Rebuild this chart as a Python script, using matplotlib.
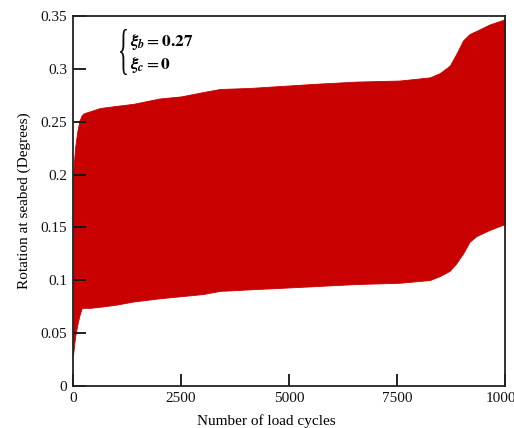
import matplotlib
matplotlib.use("Agg")
import matplotlib.pyplot as plt
from matplotlib.textpath import TextPath
from matplotlib.patches import PathPatch
from matplotlib.font_manager import FontProperties
from matplotlib.transforms import Affine2D

# envelope of the cyclic rotation response
cycles = [0, 50, 100, 150, 200, 250, 400, 625, 1000, 1400, 2000, 2500, 3000,
          3400, 4100, 4870, 5640, 6560, 7560, 8260, 8490, 8720, 8870, 9030,
          9180, 9340, 9640, 10000]
rot_max = [0.200, 0.226, 0.241, 0.251, 0.256, 0.258, 0.260, 0.263, 0.265,
           0.267, 0.272, 0.274, 0.278, 0.281, 0.282, 0.284, 0.286, 0.288,
           0.289, 0.292, 0.296, 0.303, 0.314, 0.327, 0.333, 0.336, 0.342, 0.347]
rot_min = [0.029, 0.047, 0.058, 0.067, 0.0735, 0.074, 0.074, 0.075, 0.077,
           0.080, 0.083, 0.085, 0.087, 0.090, 0.0915, 0.093, 0.0946, 0.0965,
           0.0977, 0.1003, 0.104, 0.109, 0.116, 0.1255, 0.1365, 0.1419,
           0.1476, 0.1533]

xticks = [0, 2500, 5000, 7500, 10000]
yticks = [0, 0.05, 0.1, 0.15, 0.2, 0.25, 0.3, 0.35]
ytick_labels = ['0', '0.05', '0.1', '0.15', '0.2', '0.25', '0.3', '0.35']

plt.rcParams['font.family'] = ['Liberation Serif', 'DejaVu Serif']
plt.rcParams['mathtext.fontset'] = 'stix'

W, H = 514, 428
fig = plt.figure(figsize=(W / 100, H / 100), dpi=100)
ax = fig.add_axes([0.142, 0.098, 0.8405, 0.8645])

ax.fill_between(cycles, rot_min, rot_max, color='#c80000', linewidth=0.6,
                edgecolor='#c80000')

ax.set_xlim(0, 10000)
ax.set_ylim(0, 0.35)
ax.set_xticks(xticks)
ax.set_xticklabels([str(t) for t in xticks])
ax.set_yticks(yticks)
ax.set_yticklabels(ytick_labels)
ax.tick_params(direction='in', length=9, width=1.3, labelsize=11,
               colors='#111111', pad=4)

for s in ax.spines.values():
    s.set_linewidth(1.3)
    s.set_color('#222222')

ax.set_xlabel('Number of load cycles', fontsize=11)
ax.xaxis.set_label_coords(0.447, -0.075)
ax.set_ylabel('Rotation at seabed (Degrees)', fontsize=11, labelpad=7)

# tall narrow brace, squeezed from the font glyph
brace = TextPath((0, 0), '{', size=1, prop=FontProperties(family='Liberation Serif'))
ext = brace.get_extents()
bx0, bx1, by0, by1 = 120, 127, 29, 75   # pixel box, from top-left
tr = (Affine2D().translate(-ext.x0, -ext.y0)
      .scale((bx1 - bx0) / W / ext.width, (by1 - by0) / H / ext.height)
      .translate(bx0 / W, 1 - by1 / H) + fig.transFigure)
fig.patches.append(PathPatch(brace, transform=tr, facecolor='#111111',
                             edgecolor='none'))

ax.text(1330, 0.325, r'$\mathbfit{\xi}_{\mathbfit{b}}=\mathbf{0.27}$',
        fontsize=12.5, va='center', ha='left')
ax.text(1330, 0.3035, r'$\mathbfit{\xi}_{\mathbfit{c}}=\mathbf{0}$',
        fontsize=12.5, va='center', ha='left')

fig.savefig('out.png', dpi=100)
